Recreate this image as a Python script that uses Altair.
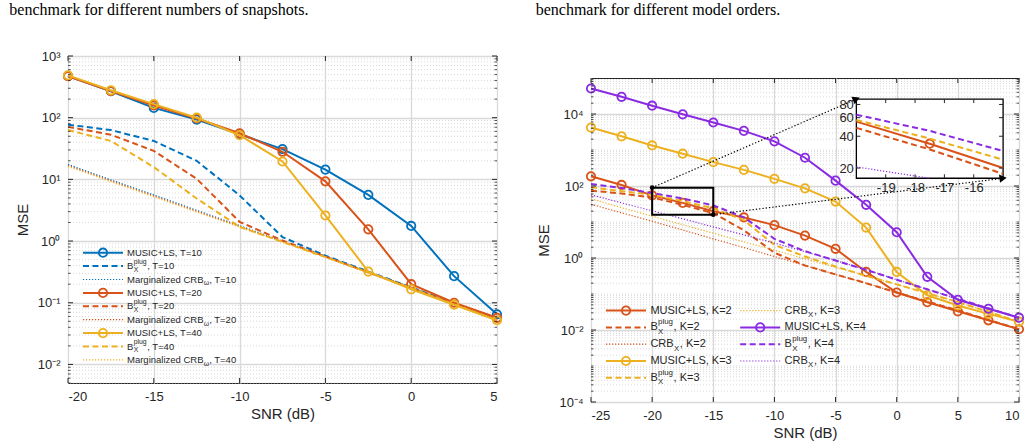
import math
import altair as alt
import pandas as pd

# ---------------- left panel: MSE versus SNR for T = 10, 20, 40 snapshots ----------------
SNR_T = [-20, -17.5, -15, -12.5, -10, -7.5, -5, -2.5, 0, 2.5, 5]
MUSIC_T10 = [475, 268, 144, 93, 54, 31, 14.4, 5.6, 1.76, 0.27, 0.065]
MUSIC_T20 = [470, 270, 158, 97, 56, 28, 9.3, 1.55, 0.20, 0.10, 0.057]
MUSIC_T40 = [485, 278, 166, 100, 52, 19.5, 2.6, 0.32, 0.165, 0.093, 0.052]
BPLUG_T10 = [77, 63, 42, 20, 5.5, 1.16, 0.58, 0.32, 0.178, 0.097, 0.054]
BPLUG_T20 = [71, 53, 29, 10.2, 2.05, 1.02, 0.56, 0.31, 0.174, 0.095, 0.053]
BPLUG_T40 = [63, 42, 15.8, 4.9, 1.7, 0.97, 0.55, 0.31, 0.172, 0.094, 0.052]
CRB_T10 = [17.5, 9.8, 5.6, 3.15, 1.78, 1.0, 0.57, 0.32, 0.178, 0.097, 0.054]
CRB_T20 = [16.8, 9.5, 5.4, 3.05, 1.73, 0.98, 0.56, 0.31, 0.174, 0.095, 0.053]
CRB_T40 = [16.2, 9.2, 5.2, 2.95, 1.68, 0.96, 0.55, 0.31, 0.172, 0.094, 0.052]

# ---------------- right panel: MSE versus SNR for model orders K = 2, 3, 4 ----------------
SNR_K = [-25, -22.5, -20, -17.5, -15, -12.5, -10, -7.5, -5, -2.5, 0, 2.5, 5, 7.5, 10]
MUSIC_K2 = [186, 107, 55, 34, 20, 13.4, 8.2, 4.2, 1.8, 0.41, 0.11, 0.059, 0.033, 0.0186, 0.0105]
MUSIC_K3 = [4200, 2400, 1340, 790, 460, 280, 158, 86, 37, 7.0, 0.41, 0.092, 0.048, 0.028, 0.017]
MUSIC_K4 = [51000, 30000, 17000, 9800, 5800, 3400, 1740, 610, 141, 30, 5.2, 0.30, 0.069, 0.039, 0.022]
BPLUG_K2 = [74, 62, 48, 30, 17.6, 5.9, 1.4, 0.62, 0.35, 0.2, 0.11, 0.062, 0.035, 0.019, 0.0105]
BPLUG_K3 = [92, 72, 57, 38, 24, 11.3, 2.3, 1.1, 0.58, 0.32, 0.185, 0.105, 0.06, 0.032, 0.017]
BPLUG_K4 = [114, 88, 64, 45, 29, 13.5, 3.4, 1.55, 0.85, 0.47, 0.25, 0.135, 0.073, 0.04, 0.022]
CRB_K2 = [31, 18, 10.5, 6.0, 3.4, 1.95, 1.1, 0.62, 0.35, 0.2, 0.11, 0.062, 0.035, 0.019, 0.0105]
CRB_K3 = [44, 25, 14.5, 8.4, 4.9, 2.8, 1.65, 0.95, 0.55, 0.32, 0.185, 0.105, 0.06, 0.032, 0.017]
CRB_K4 = [57, 34, 20.5, 12.3, 7.3, 4.4, 2.6, 1.5, 0.85, 0.47, 0.25, 0.135, 0.073, 0.04, 0.022]

# magnified region of the right panel and where its view is placed (in main-axis units)
INSET_SNR = [-20, -15]
INSET_MSE = [16, 90]
INSET_AT_SNR = [-3.3, 8.7]
INSET_AT_MSE = [164, 26000]
INSET_X_TICKS = [-19, -18, -17, -16]
INSET_Y_TICKS = [20, 40, 60, 80]

CAPTION_L = "benchmark for different numbers of snapshots."
CAPTION_R = "benchmark for different model orders."

BLUE, RED, YELLOW, PURPLE = "#0072BD", "#D95319", "#EDB120", "#8A2BE2"
INK = "#262626"
GRID = "#d9d9d9"
MINOR = "#cfcfcf"
FONT = "Liberation Sans"

W_L, H_L = 429, 327
W_R, H_R = 428, 324
TOP_L, TOP_R = 55, 76.7          # space above each plot box, holding the caption line
SNR_DOM_L, MSE_DOM_L = [-20, 5], [0.005, 1000]
SNR_DOM_R, MSE_DOM_R = [-25, 10], [1e-4, 1e5]

STYLE = {
    "music": dict(strokeWidth=2),
    "bplug": dict(strokeWidth=2, strokeDash=[6, 3.5]),
    "crb": dict(strokeWidth=1.2, strokeDash=[1.2, 1.8]),
}
MARKER = dict(shape="circle", filled=False, size=70, strokeWidth=1.8, opacity=1)

LEFT_SERIES = [
    (BLUE, "music", MUSIC_T10), (BLUE, "bplug", BPLUG_T10), (BLUE, "crb", CRB_T10),
    (RED, "music", MUSIC_T20), (RED, "bplug", BPLUG_T20), (RED, "crb", CRB_T20),
    (YELLOW, "music", MUSIC_T40), (YELLOW, "bplug", BPLUG_T40), (YELLOW, "crb", CRB_T40),
]
RIGHT_SERIES = [
    (RED, "music", MUSIC_K2), (RED, "bplug", BPLUG_K2), (RED, "crb", CRB_K2),
    (YELLOW, "music", MUSIC_K3), (YELLOW, "bplug", BPLUG_K3), (YELLOW, "crb", CRB_K3),
    (PURPLE, "music", MUSIC_K4), (PURPLE, "bplug", BPLUG_K4), (PURPLE, "crb", CRB_K4),
]
INSET_SERIES = [
    (RED, "music", MUSIC_K2), (RED, "bplug", BPLUG_K2),
    (YELLOW, "bplug", BPLUG_K3), (PURPLE, "bplug", BPLUG_K4), (PURPLE, "crb", CRB_K4),
]

# legend entries: colour, line kind, text, subscript, superscript, trailing text
LEG_L = [
    (BLUE, "music", "MUSIC+LS, T=10", "", "", ""),
    (BLUE, "bplug", "B", "X", "plug", ", T=10"),
    (BLUE, "crb", "Marginalized CRB", "ω", "", ", T=10"),
    (RED, "music", "MUSIC+LS, T=20", "", "", ""),
    (RED, "bplug", "B", "X", "plug", ", T=20"),
    (RED, "crb", "Marginalized CRB", "ω", "", ", T=20"),
    (YELLOW, "music", "MUSIC+LS, T=40", "", "", ""),
    (YELLOW, "bplug", "B", "X", "plug", ", T=40"),
    (YELLOW, "crb", "Marginalized CRB", "ω", "", ", T=40"),
]
LEG_R = [
    (RED, "music", "MUSIC+LS, K=2", "", "", ""),
    (RED, "bplug", "B", "X", "plug", ", K=2"),
    (RED, "crb", "CRB", "X", "", ", K=2"),
    (YELLOW, "music", "MUSIC+LS, K=3", "", "", ""),
    (YELLOW, "bplug", "B", "X", "plug", ", K=3"),
    (YELLOW, "crb", "CRB", "X", "", ", K=3"),
    (PURPLE, "music", "MUSIC+LS, K=4", "", "", ""),
    (PURPLE, "bplug", "B", "X", "plug", ", K=4"),
    (PURPLE, "crb", "CRB", "X", "", ", K=4"),
]

# Helvetica/Arial advance widths (1/1000 em) used to lay out the legend text pieces
ARIAL_W = {"M": 833, "U": 722, "S": 667, "I": 278, "C": 722, "+": 584, "L": 556, ",": 278,
           " ": 278, "T": 611, "=": 584, "K": 667, "B": 667, "R": 722, "X": 667, "a": 556,
           "r": 333, "g": 556, "i": 222, "n": 556, "l": 222, "z": 500, "e": 556, "d": 556,
           "p": 556, "u": 556, "ω": 690}


def text_em(s):
    return sum(ARIAL_W.get(ch, 556) for ch in s) / 1000.0


SUP = str.maketrans("-0123456789", "⁻⁰¹²³⁴⁵⁶⁷⁸⁹")


def pow10_label_expr(exps):
    expr = "''"
    for e in exps:
        expr = f"round(log(datum.value)/LN10) == {e} ? '10{str(e).translate(SUP)}' : ({expr})"
    return expr


def minor_values(dom, extra_decades=()):
    lo, hi = dom
    vals = []
    for e in range(math.floor(math.log10(lo)) - 1, math.ceil(math.log10(hi)) + 1):
        for m in range(2, 10):
            v = round(m * 10.0 ** e, 12)
            if lo <= v <= hi:
                vals.append(v)
    vals += [10.0 ** e for e in extra_decades]
    return vals


def main_panel(W, H, x_dom, y_dom, x_ticks, y_exps, minor, series):
    xs = alt.Scale(domain=x_dom, nice=False, zero=False)
    ys = alt.Scale(type="log", domain=y_dom, nice=False)
    x_ax = alt.Axis(values=x_ticks, title="SNR (dB)", labelExpr="'' + datum.value", grid=True,
                    labelPadding=7, titlePadding=3)
    y_ax = alt.Axis(values=[10.0 ** e for e in y_exps], title="MSE", labelExpr=pow10_label_expr(y_exps),
                    grid=True, labelPadding=8, titlePadding=7)

    def X(f):
        return alt.X(f, type="quantitative", scale=xs, axis=x_ax)

    def Y(f):
        return alt.Y(f, type="quantitative", scale=ys, axis=y_ax)

    minor_df = pd.DataFrame({"mse": minor})
    major_df = pd.DataFrame({"mse": [10.0 ** e for e in y_exps]})
    xtick_df = pd.DataFrame({"snr": x_ticks})

    layers = [
        alt.Chart(minor_df).mark_rule(color=MINOR, strokeWidth=0.8, strokeDash=[1, 2]).encode(y=Y("mse"))
    ]
    for color, kind, vals in series:
        snr = SNR_T if len(vals) == len(SNR_T) else SNR_K
        df = pd.DataFrame({"snr": snr, "mse": vals})
        layers.append(alt.Chart(df).mark_line(color=color, **STYLE[kind]).encode(x=X("snr"), y=Y("mse")))
        if kind == "music":
            layers.append(alt.Chart(df).mark_point(color=color, **MARKER).encode(x=X("snr"), y=Y("mse")))

    # inward tick marks on all four sides of the box
    for a, b in [(0, 5), (W - 5, W)]:
        layers.append(alt.Chart(major_df).mark_rule(color=INK, strokeWidth=1)
                      .encode(y=Y("mse"), x=alt.value(a), x2=alt.value(b)))
    for a, b in [(0, 2.5), (W - 2.5, W)]:
        layers.append(alt.Chart(minor_df).mark_rule(color=INK, strokeWidth=0.8)
                      .encode(y=Y("mse"), x=alt.value(a), x2=alt.value(b)))
    for a, b in [(0, 5), (H - 5, H)]:
        layers.append(alt.Chart(xtick_df).mark_rule(color=INK, strokeWidth=1)
                      .encode(x=X("snr"), y=alt.value(a), y2=alt.value(b)))
    return alt.layer(*layers)


def legend_panel(entries, W, H, fs, x_line, x_text, y0, dy, col_dx, per_col):
    sfs = fs * 0.72
    recs = []
    for i, (color, kind, head, sub, sup, tail) in enumerate(entries):
        c, r = divmod(i, per_col)
        xl = x_line + c * col_dx
        xt = x_text + c * col_dx
        xsub = xt + text_em(head) * fs + 0.3
        xtail = xsub + max(text_em(sub), text_em(sup)) * sfs + 0.6
        recs.append(dict(color=color, kind=kind, head=head, sub=sub, sup=sup, tail=tail,
                         x0=xl, x1=xl + 40, xm=xl + 20, xt=xt, xs=xsub, xtail=xtail, y=y0 + r * dy))
    df = pd.DataFrame(recs)
    lx = alt.Scale(domain=[0, W], nice=False, zero=False)
    ly = alt.Scale(domain=[0, H], nice=False, zero=False, reverse=True)
    col = alt.Color("color:N", scale=None)

    def pos(xf):
        return dict(x=alt.X(xf, type="quantitative", scale=lx, axis=None),
                    y=alt.Y("y", type="quantitative", scale=ly, axis=None))

    base = alt.Chart(df)
    layers = []
    for kind in ["music", "bplug", "crb"]:
        layers.append(base.transform_filter(alt.datum.kind == kind).mark_rule(**STYLE[kind])
                      .encode(x2=alt.X2("x1"), color=col, **pos("x0")))
    layers.append(base.transform_filter(alt.datum.kind == "music").mark_point(**MARKER)
                  .encode(color=col, **pos("xm")))
    txt = dict(align="left", baseline="middle", font=FONT, color=INK)
    layers.append(base.mark_text(fontSize=fs, **txt).encode(text="head:N", **pos("xt")))
    layers.append(base.mark_text(fontSize=sfs, dy=fs * 0.4, **txt).encode(text="sub:N", **pos("xs")))
    layers.append(base.mark_text(fontSize=sfs, dy=-fs * 0.45, **txt).encode(text="sup:N", **pos("xs")))
    layers.append(base.mark_text(fontSize=fs, **txt).encode(text="tail:N", **pos("xtail")))
    return alt.layer(*layers)


def caption(text, W, h, dx):
    return alt.Chart(pd.DataFrame({"t": [text]})).mark_text(
        align="left", baseline="alphabetic", font="Liberation Serif", fontSize=16, color="black"
    ).encode(x=alt.value(dx), y=alt.value(14), text="t:N").properties(
        width=W, height=h, view=alt.ViewBackground(stroke="transparent"))


def px_right(snr, mse):
    x = (snr - SNR_DOM_R[0]) / (SNR_DOM_R[1] - SNR_DOM_R[0]) * W_R
    lo, hi = math.log10(MSE_DOM_R[0]), math.log10(MSE_DOM_R[1])
    y = (hi - math.log10(mse)) / (hi - lo) * H_R
    return x, y


# ---------------- left panel ----------------
main_l = main_panel(W_L, H_L, SNR_DOM_L, MSE_DOM_L, [-20, -15, -10, -5, 0, 5],
                    [-2, -1, 0, 1, 2, 3], minor_values(MSE_DOM_L), LEFT_SERIES)
leg_l = legend_panel(LEG_L, W_L, H_L, 9.5, 15, 59, 196.7, 13.4, 0, 9)
left = alt.layer(main_l, leg_l).resolve_scale(x="independent", y="independent").properties(
    width=W_L, height=H_L)

# ---------------- right panel ----------------
main_r = main_panel(W_R, H_R, SNR_DOM_R, MSE_DOM_R, [-25, -20, -15, -10, -5, 0, 5, 10],
                    [-4, -2, 0, 2, 4], minor_values(MSE_DOM_R, (-3, -1, 1, 3)), RIGHT_SERIES)
leg_r = legend_panel(LEG_R, W_R, H_R, 11, 15, 59.4, 232.6, 16.8, 134.2, 5)

# magnified view
ix0, iy_top = px_right(INSET_AT_SNR[0], INSET_AT_MSE[1])
ix1, iy_bot = px_right(INSET_AT_SNR[1], INSET_AT_MSE[0])
xi = alt.Scale(domain=INSET_SNR, range=[ix0, ix1], nice=False, zero=False)
yi = alt.Scale(type="log", domain=INSET_MSE, range=[iy_bot, iy_top], nice=False, clamp=True)
xi_ax = alt.Axis(orient="bottom", offset=-(H_R - iy_bot), values=INSET_X_TICKS, title=None, grid=False,
                 labelExpr="'' + datum.value", labelPadding=3, zindex=1)
yi_ax = alt.Axis(orient="left", offset=-ix0, values=INSET_Y_TICKS, title=None, grid=False,
                 labelPadding=3, zindex=1)


def XI(f):
    return alt.X(f, type="quantitative", scale=xi, axis=xi_ax)


def YI(f):
    return alt.Y(f, type="quantitative", scale=yi, axis=yi_ax)


box_df = pd.DataFrame({"x": [INSET_SNR[0]], "x2": [INSET_SNR[1]], "y": [INSET_MSE[0]], "y2": [INSET_MSE[1]]})
inset_layers = [alt.Chart(box_df).mark_rect(fill="white", stroke="black", strokeWidth=1.3)
                .encode(x=XI("x"), x2=alt.X2("x2"), y=YI("y"), y2=alt.Y2("y2"))]
for color, kind, vals in INSET_SERIES:
    pts = []
    for s, v in zip(SNR_K, vals):
        if INSET_SNR[0] <= s <= INSET_SNR[1]:
            pts.append((s, v))
            if not (INSET_MSE[0] <= v <= INSET_MSE[1]):
                break
    df = pd.DataFrame(pts, columns=["snr", "mse"])
    inset_layers.append(alt.Chart(df).mark_line(color=color, **STYLE[kind]).encode(x=XI("snr"), y=YI("mse")))
    if kind == "music":
        inner = df[(df.snr > INSET_SNR[0]) & (df.snr < INSET_SNR[1])]
        inset_layers.append(alt.Chart(inner).mark_point(color=color, **MARKER).encode(x=XI("snr"), y=YI("mse")))
ixt = pd.DataFrame({"snr": INSET_X_TICKS})
iyt = pd.DataFrame({"mse": INSET_Y_TICKS})
for a, b in [(iy_bot - 4, iy_bot), (iy_top, iy_top + 4)]:
    inset_layers.append(alt.Chart(ixt).mark_rule(color=INK, strokeWidth=1)
                        .encode(x=XI("snr"), y=alt.value(a), y2=alt.value(b)))
for a, b in [(ix0, ix0 + 4), (ix1 - 4, ix1)]:
    inset_layers.append(alt.Chart(iyt).mark_rule(color=INK, strokeWidth=1)
                        .encode(y=YI("mse"), x=alt.value(a), x2=alt.value(b)))
inset = alt.layer(*inset_layers)

# zoom box in the main axes and the dotted arrows leading to the magnified view
starts = [(INSET_SNR[0], INSET_MSE[1]), (INSET_SNR[1], INSET_MSE[0])]
ends = [(INSET_AT_SNR[0], INSET_AT_MSE[1]), (INSET_AT_SNR[1], INSET_AT_MSE[0])]
seg_rows, head_rows = [], []
for k, (s, e) in enumerate(zip(starts, ends)):
    seg_rows += [dict(seg=k, snr=s[0], mse=s[1]), dict(seg=k, snr=e[0], mse=e[1])]
    (x0, y0), (x1, y1) = px_right(*s), px_right(*e)
    ang = math.degrees(math.atan2(y1 - y0, x1 - x0)) % 360
    head_rows.append(dict(snr=e[0], mse=e[1], ang=ang))
seg_df = pd.DataFrame(seg_rows)
head_df = pd.DataFrame(head_rows)
start_df = pd.DataFrame([dict(snr=s[0], mse=s[1]) for s in starts])
xa = alt.Scale(domain=SNR_DOM_R, nice=False, zero=False)
ya = alt.Scale(type="log", domain=MSE_DOM_R, nice=False)


def XA(f):
    return alt.X(f, type="quantitative", scale=xa, axis=None)


def YA(f):
    return alt.Y(f, type="quantitative", scale=ya, axis=None)


zoom_df = pd.DataFrame({"x": [INSET_SNR[0]], "x2": [INSET_SNR[1]], "y": [INSET_MSE[0]], "y2": [INSET_MSE[1]]})
arrows = alt.layer(
    alt.Chart(zoom_df).mark_rect(fillOpacity=0, stroke="black", strokeWidth=2)
    .encode(x=XA("x"), x2=alt.X2("x2"), y=YA("y"), y2=alt.Y2("y2")),
    alt.Chart(seg_df).mark_line(color="black", strokeWidth=1.2, strokeDash=[1.3, 2])
    .encode(x=XA("snr"), y=YA("mse"), detail="seg:N"),
    alt.Chart(start_df).mark_circle(color="black", size=22, opacity=1).encode(x=XA("snr"), y=YA("mse")),
    alt.Chart(head_df).mark_point(shape="triangle-right", filled=True, color="black", size=70, opacity=1)
    .encode(x=XA("snr"), y=YA("mse"), angle=alt.Angle("ang:Q", scale=None)),
)

right = alt.layer(main_r, inset, leg_r, arrows).resolve_scale(x="independent", y="independent").properties(
    width=W_R, height=H_R)

left_col = alt.vconcat(caption(CAPTION_L, W_L, TOP_L, -58.7), left, spacing=0, bounds="flush")
right_col = alt.vconcat(caption(CAPTION_R, W_R, TOP_R, -55.3), right, spacing=0, bounds="flush")

chart = (
    alt.hconcat(left_col, right_col, spacing=29)
    .properties(padding={"left": 8, "top": 0, "right": 0, "bottom": 0}, background="white")
    .configure_view(stroke=INK, strokeWidth=1)
    .configure_axis(labelFont=FONT, titleFont=FONT, labelColor=INK, titleColor=INK, labelFontSize=13,
                    titleFontSize=15, titleFontWeight="normal", ticks=False, domain=False,
                    gridColor=GRID, gridWidth=1.3)
)

chart.save("out.html", embed_options={"renderer": "svg", "actions": False})
